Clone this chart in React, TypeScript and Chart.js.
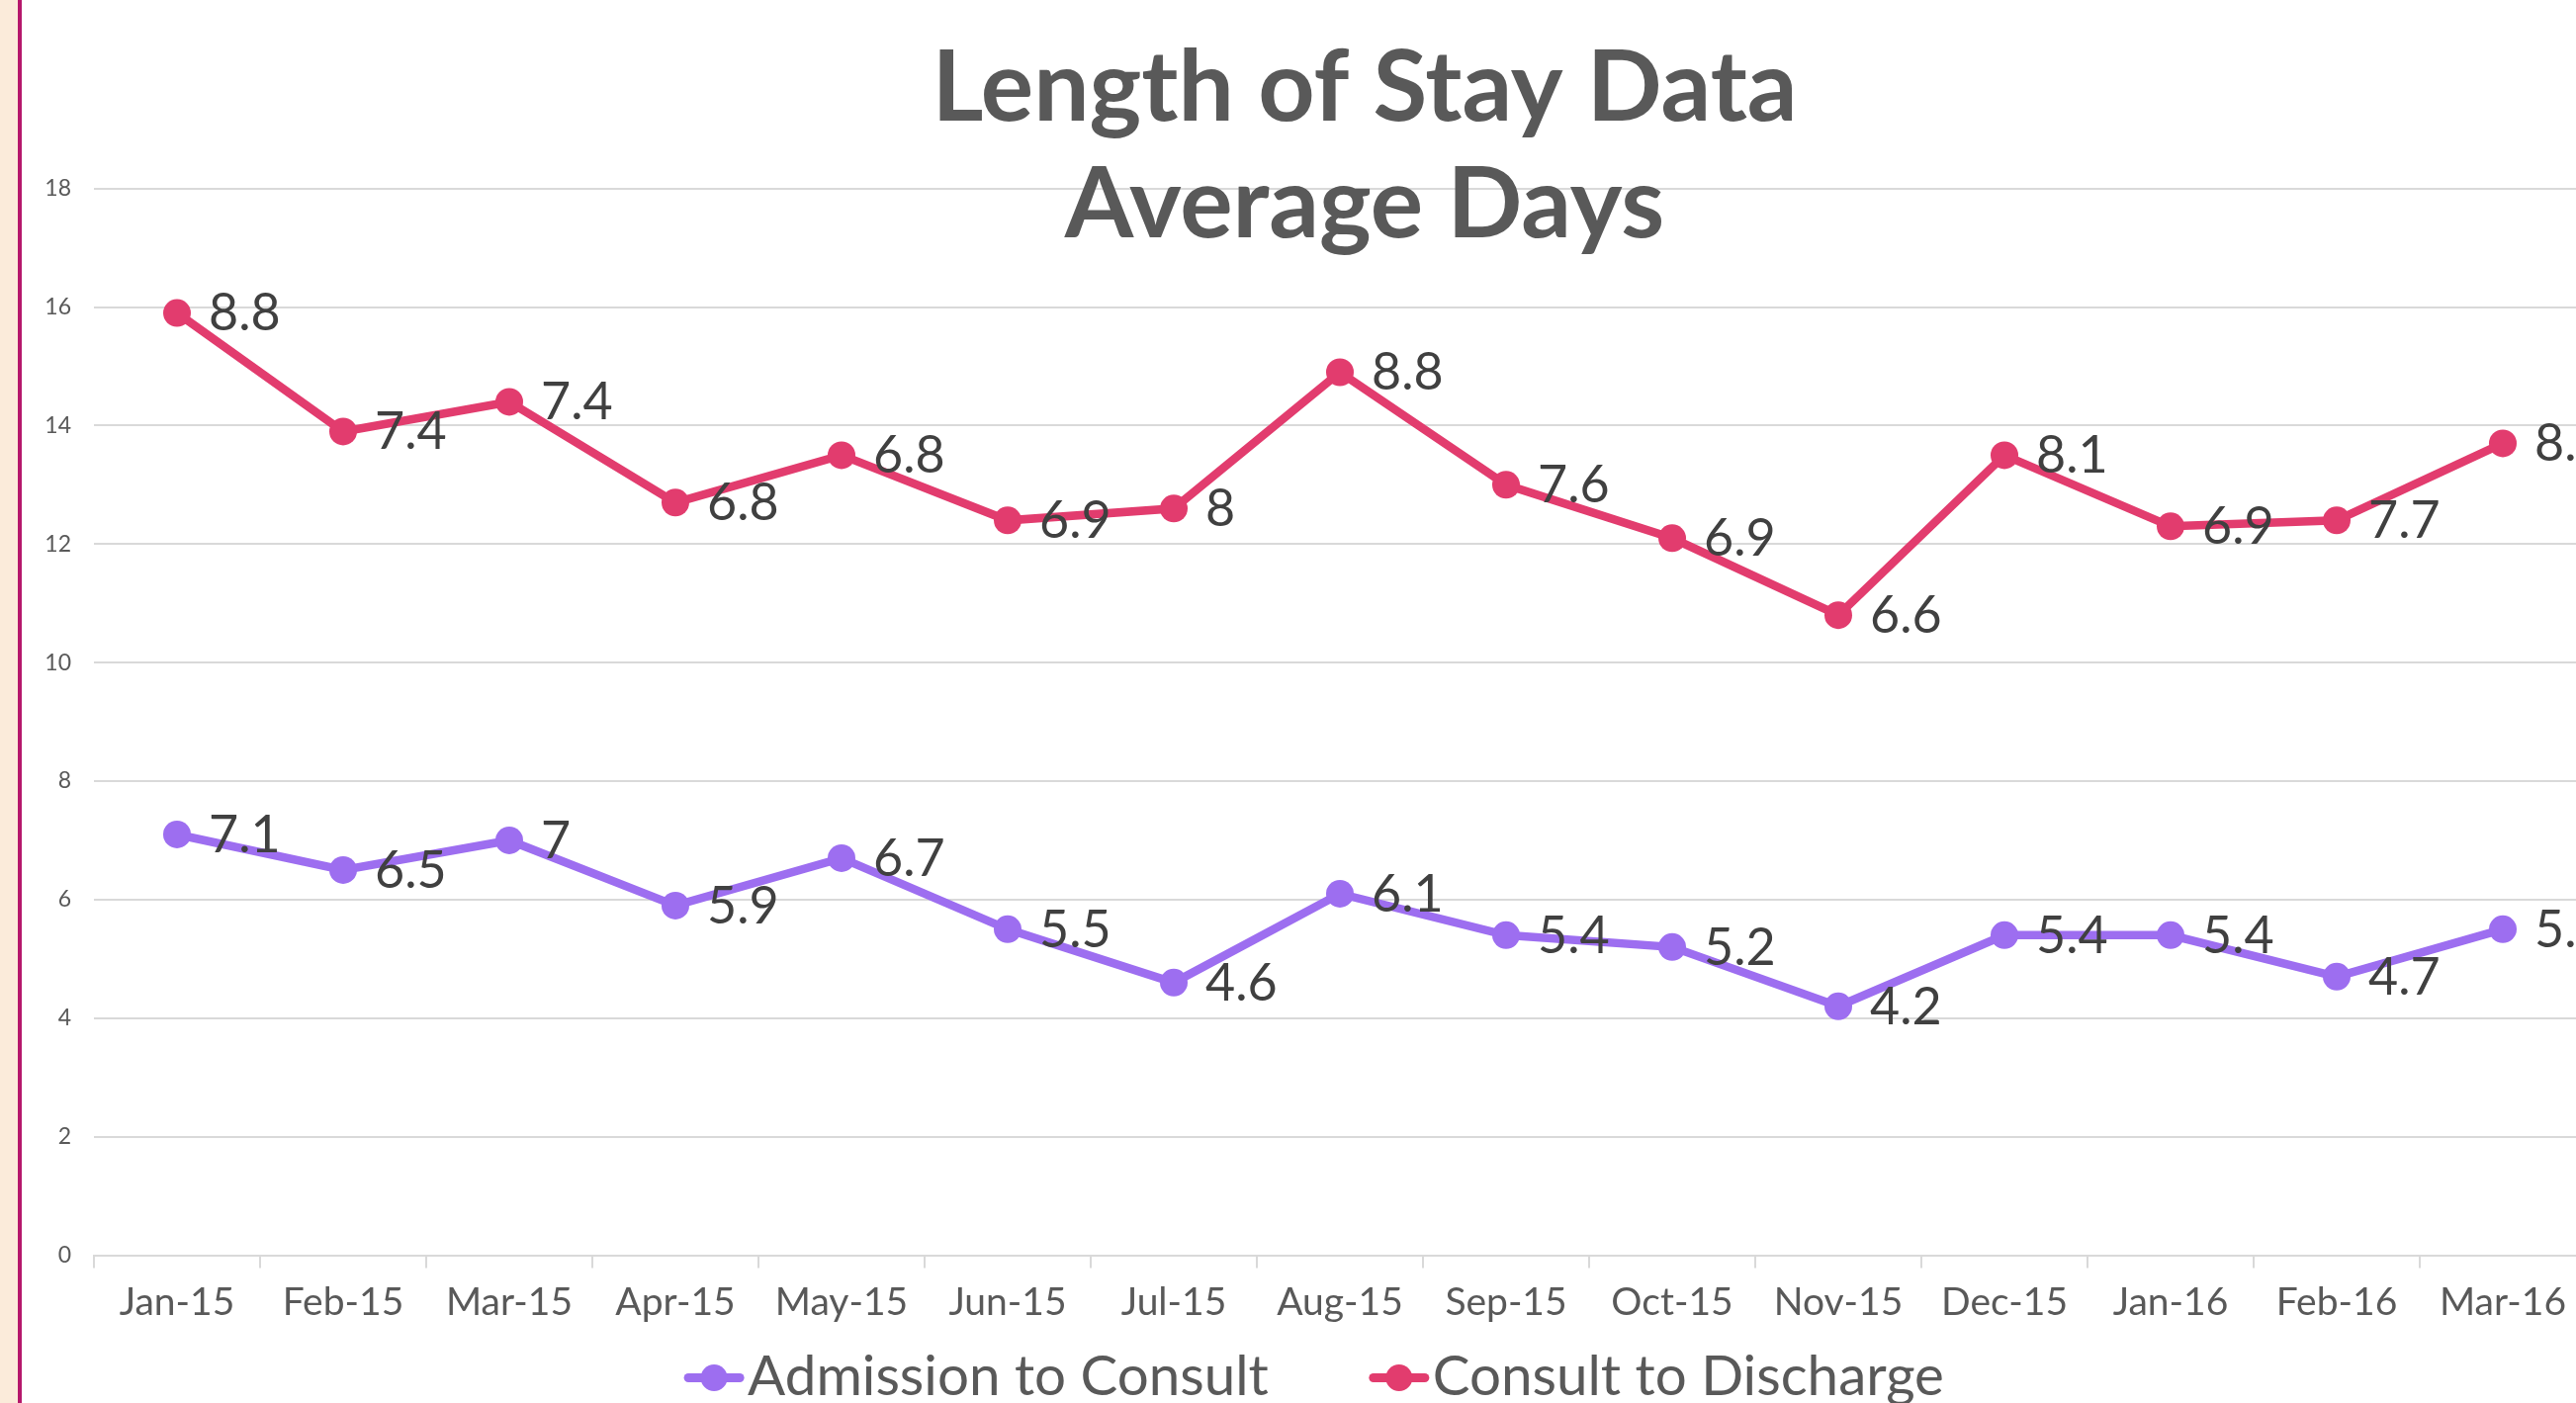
import { useEffect, useRef } from 'react';
import { Chart, registerables } from 'chart.js';

Chart.register(...registerables);

const categories = ['Jan-15', 'Feb-15', 'Mar-15', 'Apr-15', 'May-15', 'Jun-15', 'Jul-15', 'Aug-15', 'Sep-15', 'Oct-15', 'Nov-15', 'Dec-15', 'Jan-16', 'Feb-16', 'Mar-16'];
const admissionToConsult = [7.1, 6.5, 7, 5.9, 6.7, 5.5, 4.6, 6.1, 5.4, 5.2, 4.2, 5.4, 5.4, 4.7, 5.5];
const consultToDischarge = [8.8, 7.4, 7.4, 6.8, 6.8, 6.9, 8, 8.8, 7.6, 6.9, 6.6, 8.1, 6.9, 7.7, 8.2];
const seriesNames = ['Admission to Consult', 'Consult to Discharge'];
const seriesColors = ['#9D6EF0', '#E23C6E'];
const titleLines = ['Length of Stay Data', 'Average Days'];
const yMin = 0;
const yMax = 18;
const yStep = 2;

const FONT = 'Lato';

const valueLabelPlugin = {
  id: 'valueLabels',
  afterDatasetsDraw(chart: any) {
    const ctx = chart.ctx;
    ctx.save();
    ctx.font = `52px ${FONT}`;
    ctx.fillStyle = '#404040';
    ctx.textAlign = 'left';
    ctx.textBaseline = 'middle';
    chart.data.datasets.forEach((ds: any, i: number) => {
      const meta = chart.getDatasetMeta(i);
      meta.data.forEach((pt: any, j: number) => {
        ctx.fillText(String(ds.data[j]), pt.x + 32, pt.y + 1);
      });
    });
    ctx.restore();
  },
};

const legendPlugin = {
  id: 'lineLegend',
  afterDraw(chart: any) {
    const ctx = chart.ctx;
    const area = chart.chartArea;
    ctx.save();
    ctx.font = `56.5px ${FONT}`;
    const markerW = 60;
    const textGap = 4;
    const itemGap = 102;
    const items = chart.data.datasets.map((ds: any) => ({
      text: ds.label,
      color: ds.borderColor,
      w: ctx.measureText(ds.label).width,
    }));
    const total = items.reduce((s: number, it: any) => s + markerW + textGap + it.w, 0) + itemGap * (items.length - 1);
    const center = (area.left + area.right) / 2 - 26;
    let x = center - total / 2;
    const baseline = area.bottom + 141;
    const my = baseline - 17;
    items.forEach((it: any) => {
      ctx.strokeStyle = it.color;
      ctx.lineWidth = 9;
      ctx.lineCap = 'round';
      ctx.beginPath();
      ctx.moveTo(x + 4, my);
      ctx.lineTo(x + markerW - 4, my);
      ctx.stroke();
      ctx.fillStyle = it.color;
      ctx.beginPath();
      ctx.arc(x + markerW / 2, my, 13.5, 0, Math.PI * 2);
      ctx.fill();
      ctx.fillStyle = '#595959';
      ctx.textAlign = 'left';
      ctx.textBaseline = 'alphabetic';
      ctx.fillText(it.text, x + markerW + textGap, baseline);
      x += markerW + textGap + it.w + itemGap;
    });
    ctx.restore();
  },
};

export default function App() {
  const ref = useRef<HTMLCanvasElement | null>(null);

  useEffect(() => {
    if (!ref.current) return;
    const chart = new Chart(ref.current, {
      type: 'line',
      data: {
        labels: categories,
        datasets: [
          {
            label: seriesNames[0],
            data: admissionToConsult,
            borderColor: seriesColors[0],
            backgroundColor: seriesColors[0],
            pointBackgroundColor: seriesColors[0],
            pointBorderWidth: 0,
            pointRadius: 14,
            borderWidth: 8.5,
            fill: false,
            tension: 0,
          },
          {
            label: seriesNames[1],
            data: consultToDischarge,
            borderColor: seriesColors[1],
            backgroundColor: seriesColors[1],
            pointBackgroundColor: seriesColors[1],
            pointBorderWidth: 0,
            pointRadius: 14,
            borderWidth: 8.5,
            fill: false,
            tension: 0,
          },
        ],
      },
      options: {
        animation: false,
        responsive: false,
        devicePixelRatio: 1,
        layout: { padding: { left: 0, right: 0, top: 0, bottom: 66.7 } },
        plugins: {
          legend: { display: false },
          tooltip: { enabled: false },
          title: {
            display: true,
            text: titleLines,
            color: '#595959',
            font: { family: FONT, size: 100, weight: 'bold', lineHeight: 1.18 },
            padding: { top: 30.3, bottom: -75.6 },
          },
        },
        scales: {
          x: {
            offset: true,
            grid: {
              offset: true,
              drawOnChartArea: false,
              drawTicks: true,
              tickLength: 13,
              color: '#d9d9d9',
              lineWidth: 2,
            },
            border: { display: true, color: '#d9d9d9', width: 2 },
            ticks: {
              color: '#595959',
              font: { family: FONT, size: 39 },
              padding: 11.5,
              maxRotation: 0,
              autoSkip: false,
            },
          },
          y: {
            stacked: true,
            min: yMin,
            max: yMax,
            ticks: {
              stepSize: yStep,
              color: '#595959',
              font: { family: FONT, size: 23 },
              padding: 23,
            },
            grid: { color: '#d9d9d9', lineWidth: 2, drawTicks: false },
            border: { display: false },
            afterFit(s: any) {
              s.width = 73;
            },
          },
          yPad: {
            position: 'right',
            display: true,
            grid: { display: false, drawTicks: false },
            border: { display: false },
            ticks: { display: false },
            afterFit(s: any) {
              s.width = 123;
            },
          },
        },
      } as any,
      plugins: [valueLabelPlugin, legendPlugin],
    });
    return () => chart.destroy();
  }, []);

  return (
    <div
      style={{
        position: 'fixed',
        left: 0,
        top: 0,
        width: '100vw',
        height: '100vh',
        overflow: 'hidden',
        background: '#ffffff',
      }}
    >
      <div style={{ position: 'absolute', left: 0, top: 0, width: 18, height: '100%', background: '#FBEBDA' }} />
      <div style={{ position: 'absolute', left: 18, top: 0, width: 4, height: '100%', background: '#B5176B' }} />
      <canvas
        ref={ref}
        width={2716}
        height={1419}
        style={{ position: 'absolute', left: 22, top: 0, width: 2716, height: 1419 }}
      />
    </div>
  );
}
